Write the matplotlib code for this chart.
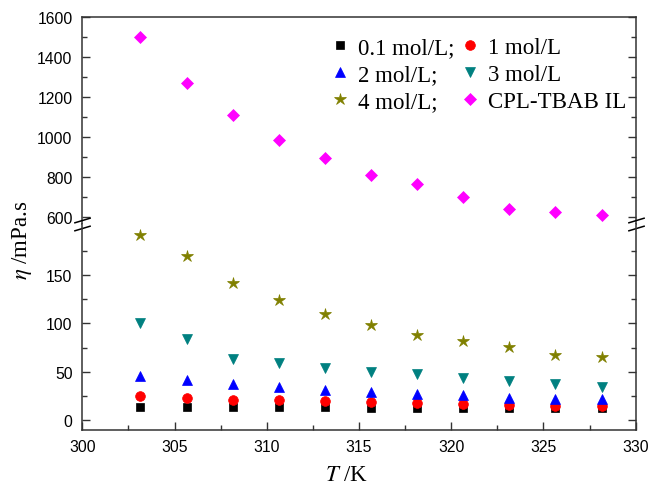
import matplotlib
matplotlib.use('Agg')
import matplotlib.pyplot as plt
from matplotlib.ticker import MultipleLocator

plt.rcParams['font.family'] = 'Liberation Sans'
plt.rcParams['mathtext.fontset'] = 'stix'

# temperatura (K) e viscosidade (mPa.s) de cada solução
T = [303.15, 305.65, 308.15, 310.65, 313.15, 315.65, 318.15, 320.65, 323.15, 325.65, 328.15]
eta_01 = [14.0, 13.8, 13.5, 13.3, 13.0, 12.8, 12.6, 12.4, 12.2, 12.0, 12.0]
eta_1 = [24.5, 22.4, 21.0, 20.4, 19.3, 18.3, 17.3, 16.2, 15.5, 14.2, 14.2]
eta_2 = [46.0, 41.5, 37.5, 33.8, 31.0, 29.3, 27.2, 25.5, 23.0, 21.7, 21.4]
eta_3 = [100.0, 84.0, 63.0, 59.0, 54.0, 49.3, 47.3, 43.8, 40.4, 37.6, 33.8]
eta_4 = [192.0, 169.5, 142.0, 124.0, 110.0, 98.3, 88.3, 81.5, 75.6, 67.6, 65.5]
eta_il = [1500, 1271, 1111, 988, 896, 812, 767, 703, 642, 627, 611]

series = [
    (eta_01, 's', 'black', 6.2, '0.1 mol/L;'),
    (eta_1, 'o', 'red', 7.0, '1 mol/L'),
    (eta_2, '^', 'blue', 7.6, '2 mol/L;'),
    (eta_3, 'v', 'teal', 7.6, '3 mol/L'),
    (eta_4, '*', 'olive', 9.0, '4 mol/L;'),
    (eta_il, 'D', 'magenta', 6.0, 'CPL-TBAB IL'),
]

W, H = 649, 489
fig = plt.figure(figsize=(W / 100, H / 100), dpi=100)
x0, x1 = 82.3, 635.7
ytop, ybrk, ybot = 18.3, 225.0, 430.7
ax_top = fig.add_axes([x0 / W, 1 - ybrk / H, (x1 - x0) / W, (ybrk - ytop) / H])
ax_bot = fig.add_axes([x0 / W, 1 - ybot / H, (x1 - x0) / W, (ybot - ybrk) / H])

handles = {}
for vals, mk, cor, ms, nome in series:
    for ax in (ax_top, ax_bot):
        h, = ax.plot(T, vals, linestyle='none', marker=mk, color=cor, markersize=ms,
                     markeredgewidth=0.5, label=nome)
    handles[nome] = h

ax_top.set_ylim(567, 1600)
ax_bot.set_ylim(-10, 203)
for ax in (ax_top, ax_bot):
    ax.set_xlim(300, 330)
    ax.xaxis.set_major_locator(MultipleLocator(5))
    ax.xaxis.set_minor_locator(MultipleLocator(2.5))
    for s in ax.spines.values():
        s.set_linewidth(1.1)
        s.set_color('#333333')
    ax.tick_params(which='both', direction='in', left=True, right=True, top=False,
                   labelsize=11.3, pad=7, width=1.0, color='#333333')
    ax.tick_params(which='major', length=6)
    ax.tick_params(which='minor', length=3.5)

ax_top.yaxis.set_major_locator(MultipleLocator(200))
ax_top.yaxis.set_minor_locator(MultipleLocator(100))
ax_bot.set_yticks([0, 50, 100, 150])
ax_bot.set_yticks([25, 75, 125, 175], minor=True)

ax_top.spines['bottom'].set_visible(False)
ax_top.tick_params(which='both', bottom=False, labelbottom=False)
ax_bot.spines['top'].set_visible(False)

# marcas de quebra do eixo (//)
dy = 3.6 / (ybot - ybrk)
corte = dict(marker=[(-1, -0.3), (1, 0.3)], markersize=12, linestyle='none',
             color='black', mec='black', mew=1.1, clip_on=False, transform=ax_bot.transAxes)
for yy in (1 + dy, 1 - dy):
    ax_bot.plot([0, 1], [yy, yy], **corte)

ordem = ['0.1 mol/L;', '2 mol/L;', '4 mol/L;', '1 mol/L', '3 mol/L', 'CPL-TBAB IL']
fig.legend([handles[n] for n in ordem], ordem, ncol=2, loc='upper left',
           bbox_to_anchor=(331 / W, 1 - 38 / H), bbox_transform=fig.transFigure,
           frameon=False, borderpad=0, borderaxespad=0, handlelength=0.8,
           handletextpad=0.4, columnspacing=0.25, labelspacing=0.27,
           prop={'family': 'Liberation Serif', 'size': 16.5})

fig.text(22 / W, 1 - 240 / H, r'$\eta$ /mPa.s', rotation=90, ha='center', va='center',
         fontsize=16.5, family='Liberation Serif')
fig.text(347 / W, 1 - 476 / H, r'$T$ /K', ha='center', va='center',
         fontsize=16.5, family='Liberation Serif')

fig.savefig('out.png', dpi=100)
